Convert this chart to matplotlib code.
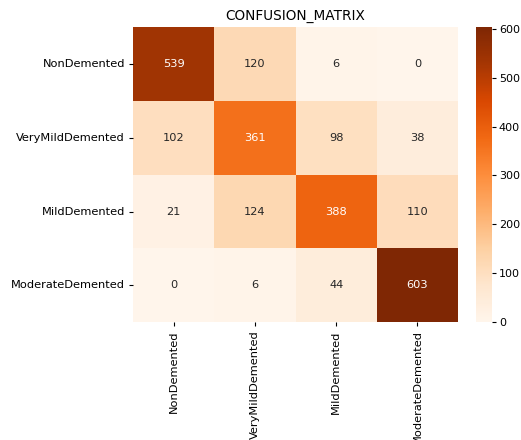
import numpy as np
import matplotlib
matplotlib.use("Agg")
import matplotlib.pyplot as plt
import seaborn as sns

class_names = ["NonDemented", "VeryMildDemented", "MildDemented", "ModerateDemented"]
row_nondemented = [539, 120, 6, 0]
row_verymild = [102, 361, 98, 38]
row_mild = [21, 124, 388, 110]
row_moderate = [0, 6, 44, 603]

cm = np.array([row_nondemented, row_verymild, row_mild, row_moderate])

fig = plt.figure(figsize=(5.21, 4.40), dpi=100)
ax = fig.add_axes([0.2553, 0.268, 0.6238, 0.670])
cax = fig.add_axes([0.9145, 0.268, 0.0295, 0.670])

sns.heatmap(cm, annot=True, fmt="d", cmap="Oranges", ax=ax, cbar_ax=cax,
            xticklabels=class_names, yticklabels=class_names,
            annot_kws={"fontsize": 8.2})
ax.set_title("CONFUSION_MATRIX", fontsize=9.8, pad=5)
ax.tick_params(axis="x", rotation=90, labelsize=8.2, length=2.9, pad=2.9)
ax.tick_params(axis="y", rotation=0, labelsize=8.2, length=2.9, pad=2.9)
cax.set_yticks([0, 100, 200, 300, 400, 500, 600])
cax.tick_params(labelsize=8.0, length=2.9, pad=2.2)

fig.savefig("out.png", dpi=100)
